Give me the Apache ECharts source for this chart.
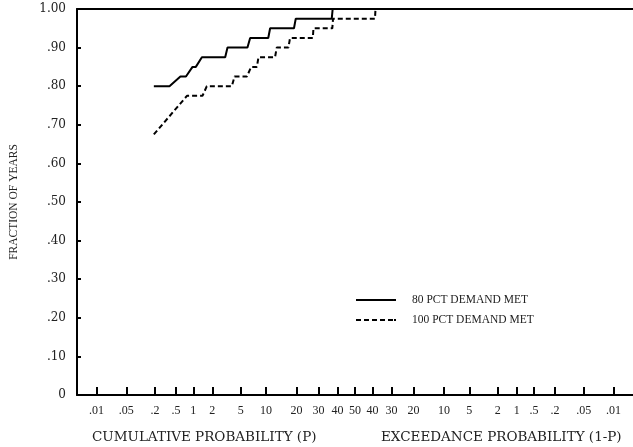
<!DOCTYPE html>
<html><head><meta charset="utf-8">
<script src="https://cdn.jsdelivr.net/npm/echarts@6/dist/echarts.min.js"></script>
<style>html,body{margin:0;padding:0;background:#fff}#c{width:633px;height:447px}</style>
</head><body><div id="c"></div>
<script>
// Data: cumulative probability (percent) and fraction of years
var p80 = [0.19, 0.38, 0.60, 0.75, 0.97, 1.10, 1.38, 3.09, 3.33, 6.09, 6.57, 10.6, 11.1, 19.0, 19.7, 36.9, 37.4, 60.0];
var f80 = [0.80, 0.80, 0.825, 0.825, 0.85, 0.85, 0.875, 0.875, 0.90, 0.90, 0.925, 0.925, 0.95, 0.95, 0.975, 0.975, 1.0, 1.0];
var p100 = [0.19, 0.78, 1.41, 1.65, 3.82, 4.15, 5.99, 6.76, 7.90, 8.24, 12.5, 13.0, 16.9, 17.5, 27.2, 27.5, 37.2, 37.6, 61.3, 61.6];
var f100 = [0.675, 0.775, 0.775, 0.80, 0.80, 0.825, 0.825, 0.85, 0.85, 0.875, 0.875, 0.90, 0.90, 0.925, 0.925, 0.95, 0.95, 0.975, 0.975, 1.0];
var tickProbs = [0.01, 0.05, 0.2, 0.5, 1, 2, 5, 10, 20, 30, 40, 50, 60, 70, 80, 90, 95, 98, 99, 99.5, 99.8, 99.95, 99.99];
var tickLabels = ['.01', '.05', '.2', '.5', '1', '2', '5', '10', '20', '30', '40', '50', '40', '30', '20', '10', '5', '2', '1', '.5', '.2', '.05', '.01'];
var seriesNames = ['80 PCT DEMAND MET', '100 PCT DEMAND MET'];

// inverse normal CDF (Acklam)
function probit(p) {
  var a = [-3.969683028665376e+01, 2.209460984245205e+02, -2.759285104469687e+02, 1.383577518672690e+02, -3.066479806614716e+01, 2.506628277459239e+00];
  var b = [-5.447609879822406e+01, 1.615858368580409e+02, -1.556989798598866e+02, 6.680131188771972e+01, -1.328068155288572e+01];
  var c = [-7.784894002430293e-03, -3.223964580411365e-01, -2.400758277161838e+00, -2.549732539343734e+00, 4.374664141464968e+00, 2.938163982698783e+00];
  var d = [7.784695709041462e-03, 3.224671290700398e-01, 2.445134137142996e+00, 3.754408661907416e+00];
  var pl = 0.02425, q, r;
  if (p < pl) { q = Math.sqrt(-2 * Math.log(p)); return (((((c[0]*q+c[1])*q+c[2])*q+c[3])*q+c[4])*q+c[5]) / ((((d[0]*q+d[1])*q+d[2])*q+d[3])*q+1); }
  if (p <= 1 - pl) { q = p - 0.5; r = q*q; return (((((a[0]*r+a[1])*r+a[2])*r+a[3])*r+a[4])*r+a[5])*q / (((((b[0]*r+b[1])*r+b[2])*r+b[3])*r+b[4])*r+1); }
  q = Math.sqrt(-2 * Math.log(1 - p)); return -(((((c[0]*q+c[1])*q+c[2])*q+c[3])*q+c[4])*q+c[5]) / ((((d[0]*q+d[1])*q+d[2])*q+d[3])*q+1);
}
function z(pct) { return probit(pct / 100); }
var tickZ = tickProbs.map(z);
function labelFor(v) {
  var best = 0, bd = 1e9;
  for (var i = 0; i < tickZ.length; i++) { var dd = Math.abs(tickZ[i] - v); if (dd < bd) { bd = dd; best = i; } }
  return tickLabels[best];
}
function pairs(ps, fs) { return ps.map(function (p, i) { return [z(p), fs[i]]; }); }

var FONT = 'Liberation Serif';
var WIDE = 'DejaVu Serif';
var solidIcon = 'path://M0,0h40v2h-40z';
var dashIcon = 'path://M0,0h5v2h-5zM8,0h5v2h-5zM16,0h5v2h-5zM24,0h5v2h-5zM32,0h5v2h-5zM38,0h2v2h-2z';
var chart = echarts.init(document.getElementById('c'), null, { renderer: 'canvas' });
chart.setOption({
  backgroundColor: '#fff',
  animation: false,
  grid: { left: 77, right: 0, top: 9, bottom: 52, containLabel: false, outerBoundsMode: 'none' },
  xAxis: [{
    type: 'value', min: -4, max: 4, position: 'bottom',
    axisLine: { show: true, onZero: false, lineStyle: { color: '#000', width: 2 } },
    axisTick: { show: true, inside: true, length: 8, lineStyle: { color: '#000', width: 2 }, customValues: tickZ },
    axisLabel: { show: true, customValues: tickZ, formatter: function (v) { return labelFor(v); }, color: '#222', fontFamily: FONT, fontSize: 12, margin: 10 },
    splitLine: { show: false }
  }, {
    type: 'value', min: -4, max: 4, position: 'top',
    axisLine: { show: true, onZero: false, lineStyle: { color: '#000', width: 2 } },
    axisTick: { show: false }, axisLabel: { show: false }, splitLine: { show: false }
  }],
  yAxis: {
    type: 'value', min: 0, max: 1, interval: 0.1,
    name: 'FRACTION OF YEARS', nameLocation: 'middle', nameGap: 57, nameRotate: 90,
    nameTextStyle: { color: '#222', fontFamily: FONT, fontSize: 11.5 },
    axisLine: { show: true, onZero: false, lineStyle: { color: '#000', width: 2 } },
    axisTick: { show: true, inside: true, length: 4, lineStyle: { color: '#000', width: 2 } },
    axisLabel: {
      color: '#222', fontFamily: WIDE, fontSize: 12, margin: 11,
      formatter: function (v) { if (v === 0) return '0'; if (Math.abs(v - 1) < 1e-9) return '1.00'; return '.' + String(Math.round(v * 100)); }
    },
    splitLine: { show: false }
  },
  legend: {
    orient: 'vertical', left: 351, top: 289, itemWidth: 40, itemHeight: 2, itemGap: 8,
    data: [{ name: seriesNames[0], icon: solidIcon }, { name: seriesNames[1], icon: dashIcon }],
    itemStyle: { color: '#000' },
    textStyle: { color: '#222', fontFamily: FONT, fontSize: 11.5, padding: [0, 0, 0, 11] }
  },
  graphic: [
    { type: 'text', left: 92, top: 430, style: { text: 'CUMULATIVE PROBABILITY (P)', fill: '#222', font: '13.5px "DejaVu Serif"' } },
    { type: 'text', left: 381, top: 430, style: { text: 'EXCEEDANCE PROBABILITY (1-P)', fill: '#222', font: '13.5px "DejaVu Serif"' } }
  ],
  series: [{
    name: seriesNames[0], type: 'line', symbol: 'none', data: pairs(p80, f80),
    lineStyle: { color: '#000', width: 2, type: 'solid' }, itemStyle: { color: '#000' }
  }, {
    name: seriesNames[1], type: 'line', symbol: 'none', data: pairs(p100, f100),
    lineStyle: { color: '#000', width: 2, type: [5, 3] }, itemStyle: { color: '#000' }
  }]
});
</script></body></html>
